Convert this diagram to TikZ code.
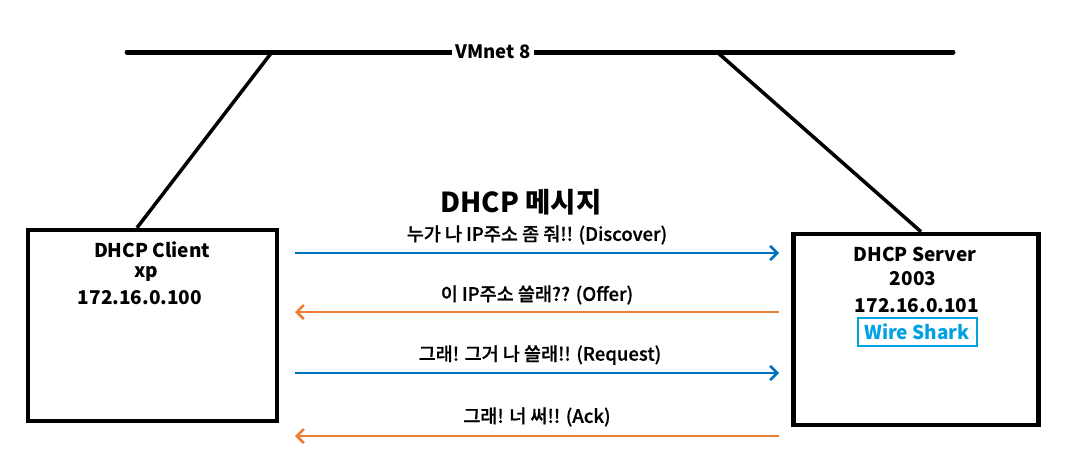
\documentclass[tikz,border=0pt]{standalone}
\usepackage{fontspec}
\setmainfont{Noto Sans CJK KR}
\newfontfamily\medfont{Noto Sans CJK KR Medium}[BoldFont=Noto Sans CJK KR Medium, BoldFeatures={FakeBold=0.7}]
\usetikzlibrary{arrows.meta, positioning, calc}

\definecolor{msgblue}{RGB}{0,112,192}
\definecolor{msgorange}{RGB}{237,125,49}
\definecolor{sharkblue}{RGB}{0,160,226}

\tikzset{
  hostbox/.style={draw=black, line width=4.5pt, inner sep=0pt},
  hosttext/.style={font=\fontsize{19}{21}\selectfont\bfseries, inner sep=0pt},
  msgtext/.style={font=\medfont\bfseries\fontsize{18.5}{20}\selectfont, inner sep=0pt},
  wire/.style={line width=3.5pt},
  msg/.style={line width=2.6pt, -{Straight Barb[length=7pt,width=14pt,line width=2.6pt]}}
}

\begin{document}
\begin{tikzpicture}[x=1pt, y=-1pt]
\useasboundingbox (0,0) rectangle (1080,464);

% network bus
\coordinate (busL) at (127,52);
\coordinate (busR) at (953,52);
\draw [line width=5pt, line cap=round] (busL) -- (busR);
\node[fill=white, inner xsep=4pt, inner ysep=2pt,
      font=\fontsize{18.5}{20}\selectfont\bfseries] (vmnet) at (493,52) {VMnet 8};

% hosts
\node[hostbox, minimum width=249pt, minimum height=191pt] (client) at (152.5,325.5) {};
\node[hostbox, minimum width=245pt, minimum height=191pt] (server) at (916,329.5) {};

\coordinate (tapL) at (272,52);
\coordinate (tapR) at (717,52);
\draw [wire] (tapL) -- ($(client.north)+(-15.5,0)$);
\draw [wire] (tapR) -- ($(server.north)+(5,0)$);

% client labels
\node[hosttext] (cname) at (152,250) {DHCP Client};
\node[hosttext] (cos) at (146,274) {xp};
\node[hosttext] (cip) at (140,298) {172.16.0.100};

% server labels
\node[hosttext] (sname) at (915,254) {DHCP Server};
\node[hosttext] (sos) at (913,279) {2003};
\node[hosttext] (sip) at (917,306) {172.16.0.101};
\node[draw=sharkblue, line width=2pt, text=sharkblue, font=\fontsize{19}{21}\selectfont\bfseries,
      minimum width=119pt, minimum height=28pt, inner sep=0pt] (shark) at (917,331.5) {Wire Shark};

% messages
\node[font=\fontsize{27.5}{30}\selectfont\bfseries, inner sep=0pt] (title) at (521,202) {DHCP 메시지};

\coordinate (d1) at (295,253);  \coordinate (d2) at (779,253);
\coordinate (o1) at (779,312);  \coordinate (o2) at (295,312);
\coordinate (r1) at (295,373);  \coordinate (r2) at (779,373);
\coordinate (a1) at (779,436);  \coordinate (a2) at (295,436);

\draw [msg, draw=msgblue] (d1) -- (d2);
\draw [msg, draw=msgorange] (o1) -- (o2);
\draw [msg, draw=msgblue] (r1) -- (r2);
\draw [msg, draw=msgorange] (a1) -- (a2);

\node[msgtext] (discover) at (537,235) {누가 나 IP주소 좀 줘!! (Discover)};
\node[msgtext] (offer) at (537,295) {이 IP주소 쓸래?? (Offer)};
\node[msgtext] (request) at (540,355) {그래! 그거 나 쓸래!! (Request)};
\node[msgtext] (ack) at (537,417) {그래! 너 써!! (Ack)};
\end{tikzpicture}
\end{document}
